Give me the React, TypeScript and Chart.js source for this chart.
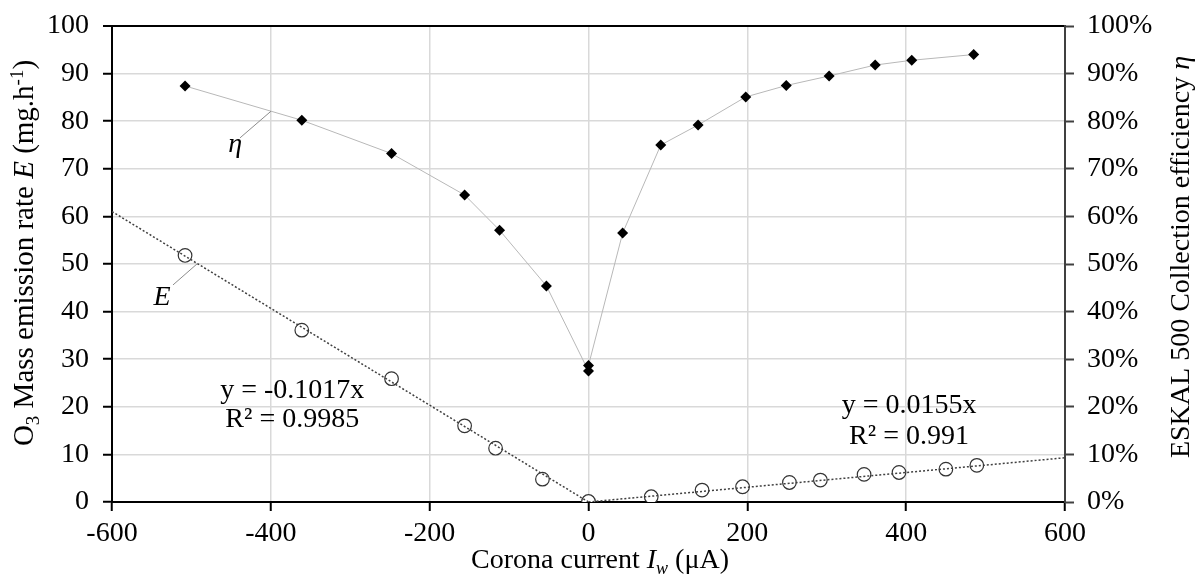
import React, { useEffect, useRef } from "react";
import { Chart, registerables } from "chart.js";

Chart.register(...registerables);

// ---- Data ----
const currentEta = [-508, -361, -248, -156, -112, -53, 0, 0, 43, 91, 138, 198, 249, 303, 361, 407, 485];
const etaPercent = [87.4, 80.2, 73.2, 64.5, 57.1, 45.4, 27.5, 28.7, 56.5, 75.0, 79.2, 85.1, 87.5, 89.5, 91.8, 92.8, 94.0];

const currentE = [-508, -361, -248, -156, -117, -58, 0, 79, 143, 194, 253, 292, 347, 391, 450, 489];
const emissionE = [51.8, 36.1, 25.9, 16.0, 11.3, 4.8, 0.1, 1.1, 2.5, 3.2, 4.1, 4.6, 5.8, 6.2, 6.9, 7.7];

const trendNegX = [-600, 0];
const trendNegY = [61.02, 0];
const trendPosX = [0, 600];
const trendPosY = [0, 9.3];

const xTickValues = [-600, -400, -200, 0, 200, 400, 600];
const leftTickValues = [0, 10, 20, 30, 40, 50, 60, 70, 80, 90, 100];
const rightTickLabels = ["0%", "10%", "20%", "30%", "40%", "50%", "60%", "70%", "80%", "90%", "100%"];

const eqNeg = ["y = -0.1017x", "R\u00B2 = 0.9985"];
const eqPos = ["y = 0.0155x", "R\u00B2 = 0.991"];

// ---- Styles ----
const FAMILY = '"Liberation Serif", "Times New Roman", serif';
const FS = 28;

type Run = { t: string; i?: boolean; sub?: boolean; sup?: boolean };

function drawRuns(ctx: CanvasRenderingContext2D, runs: Run[], cx: number, cy: number, angle: number, size = FS) {
  ctx.save();
  ctx.translate(cx, cy);
  ctx.rotate(angle);
  ctx.fillStyle = "#000";
  ctx.textBaseline = "alphabetic";
  ctx.textAlign = "left";
  const small = Math.round(size * 0.65);
  const fontOf = (r: Run) => `${r.i ? "italic " : ""}${r.sub || r.sup ? small : size}px ${FAMILY}`;
  let total = 0;
  const widths = runs.map((r) => {
    ctx.font = fontOf(r);
    const w = ctx.measureText(r.t).width;
    total += w;
    return w;
  });
  let x = -total / 2;
  runs.forEach((r, k) => {
    ctx.font = fontOf(r);
    const dy = r.sub ? size * 0.22 : r.sup ? -size * 0.36 : 0;
    ctx.fillText(r.t, x, dy);
    x += widths[k];
  });
  ctx.restore();
}

const annotationPlugin = {
  id: "annotations",
  afterDatasetsDraw(chart: any) {
    const { ctx, scales } = chart;
    const xs = scales.x;
    const ys = scales.y;
    const px = (v: number) => xs.getPixelForValue(v);
    const py = (v: number) => ys.getPixelForValue(v);
    ctx.save();
    ctx.strokeStyle = "#8c8c8c";
    ctx.lineWidth = 1;
    const leaders = [
      [-399.8, 82.1, -438.8, 76.5],
      [-491.7, 50.2, -523.2, 45.6],
    ];
    leaders.forEach(([a, b, c, d]) => {
      ctx.beginPath();
      ctx.moveTo(px(a), py(b));
      ctx.lineTo(px(c), py(d));
      ctx.stroke();
    });
    ctx.fillStyle = "#000";
    ctx.textAlign = "center";
    ctx.textBaseline = "alphabetic";
    ctx.font = `italic ${FS}px ${FAMILY}`;
    ctx.fillText("\u03B7", px(-445), py(73.5));
    ctx.fillText("E", px(-537), py(41.4));
    ctx.font = `${FS}px ${FAMILY}`;
    ctx.fillText(eqNeg[0], px(-373), py(21.8));
    ctx.fillText(eqNeg[1], px(-373), py(15.7));
    ctx.fillText(eqPos[0], px(403.6), py(18.7));
    ctx.fillText(eqPos[1], px(403.6), py(12.2));
    ctx.restore();
  },
  afterDraw(chart: any) {
    const { ctx } = chart;
    drawRuns(
      ctx,
      [{ t: "Corona current " }, { t: "I", i: true }, { t: "w", i: true, sub: true }, { t: " (\u03BCA)" }],
      600,
      568,
      0
    );
    drawRuns(
      ctx,
      [
        { t: "O" },
        { t: "3", sub: true },
        { t: " Mass emission rate " },
        { t: "E", i: true },
        { t: " (mg.h" },
        { t: "-1", sup: true },
        { t: ")" },
      ],
      33,
      253,
      -Math.PI / 2,
      29
    );
    drawRuns(
      ctx,
      [{ t: "ESKAL 500 Collection efficiency " }, { t: "\u03B7", i: true }],
      1189,
      257,
      -Math.PI / 2
    );
  },
};

export default function App() {
  const ref = useRef<HTMLCanvasElement | null>(null);

  useEffect(() => {
    if (!ref.current) return;
    const tickFont = { family: FAMILY, size: FS };
    const chart = new Chart(ref.current, {
      type: "scatter",
      data: {
        datasets: [
          {
            label: "trendNeg",
            data: trendNegX.map((x, i) => ({ x, y: trendNegY[i] })),
            showLine: true,
            borderColor: "#404040",
            borderWidth: 1.5,
            borderDash: [2, 2],
            pointRadius: 0,
            yAxisID: "y",
            order: 0,
          },
          {
            label: "trendPos",
            data: trendPosX.map((x, i) => ({ x, y: trendPosY[i] })),
            showLine: true,
            borderColor: "#404040",
            borderWidth: 1.5,
            borderDash: [2, 2],
            pointRadius: 0,
            yAxisID: "y",
            order: 0,
          },
          {
            label: "E",
            data: currentE.map((x, i) => ({ x, y: emissionE[i] })),
            showLine: false,
            pointStyle: "circle",
            pointRadius: 6.8,
            pointBorderWidth: 1.2,
            pointBorderColor: "#333333",
            pointBackgroundColor: "#ffffff",
            yAxisID: "y",
            order: 1,
          },
          {
            label: "eta",
            data: currentEta.map((x, i) => ({ x, y: etaPercent[i] })),
            showLine: true,
            borderColor: "#b8b8b8",
            borderWidth: 1,
            pointStyle: "rectRot",
            pointRadius: 5.5,
            pointBorderWidth: 0,
            pointBackgroundColor: "#000000",
            pointBorderColor: "#000000",
            yAxisID: "y1",
            order: 2,
          },
        ],
      },
      options: {
        responsive: false,
        animation: false,
        layout: { padding: { top: 26, left: 0, right: 0, bottom: 0 } },
        plugins: { legend: { display: false }, tooltip: { enabled: false } },
        scales: {
          x: {
            type: "linear",
            position: "bottom",
            min: -600,
            max: 600,
            afterBuildTicks: (s: any) => {
              s.ticks = xTickValues.map((v) => ({ value: v }));
            },
            afterFit: (s: any) => {
              s.height = 73;
              s.paddingLeft = 0;
              s.paddingRight = 0;
            },
            ticks: { font: tickFont, color: "#000", padding: 6, callback: (v: any) => String(v), maxRotation: 0 },
            grid: {
              color: (c: any) => (c.tick && (c.tick.value === -600 || c.tick.value === 600) ? "rgba(0,0,0,0)" : "#d9d9d9"),
              lineWidth: 1.5,
              tickColor: "#000",
              tickWidth: 2,
              tickLength: 9,
            },
            border: { color: "#000", width: 2 },
          },
          y: {
            type: "linear",
            position: "left",
            min: 0,
            max: 100,
            afterBuildTicks: (s: any) => {
              s.ticks = leftTickValues.map((v) => ({ value: v }));
            },
            afterFit: (s: any) => {
              s.width = 112;
              s.paddingTop = 0;
              s.paddingBottom = 0;
            },
            ticks: { font: tickFont, color: "#000", padding: 14, callback: (v: any) => String(v) },
            grid: {
              color: (c: any) => (c.tick && c.tick.value === 100 ? "#000" : "#d9d9d9"),
              lineWidth: (c: any) => (c.tick && c.tick.value === 100 ? 2 : 1.5),
              tickColor: "#000",
              tickWidth: 2,
              tickLength: 9,
            },
            border: { color: "#000", width: 2 },
          },
          y1: {
            type: "linear",
            position: "right",
            min: 0,
            max: 100,
            afterBuildTicks: (s: any) => {
              s.ticks = leftTickValues.map((v) => ({ value: v }));
            },
            afterFit: (s: any) => {
              s.width = 136;
              s.paddingTop = 0;
              s.paddingBottom = 0;
            },
            ticks: {
              font: tickFont,
              color: "#000",
              padding: 13,
              callback: (_v: any, i: number) => rightTickLabels[i],
            },
            grid: {
              drawOnChartArea: false,
              tickColor: "#404040",
              tickWidth: 2,
              tickLength: 9,
            },
            border: { color: "#404040", width: 2 },
          },
        },
      },
      plugins: [annotationPlugin],
    } as any);
    return () => chart.destroy();
  }, []);

  return (
    <div style={{ position: "absolute", left: 0, top: 0, width: 1201, height: 575, background: "#fff" }}>
      <canvas ref={ref} width={1201} height={575} style={{ display: "block", width: 1201, height: 575 }} />
    </div>
  );
}
